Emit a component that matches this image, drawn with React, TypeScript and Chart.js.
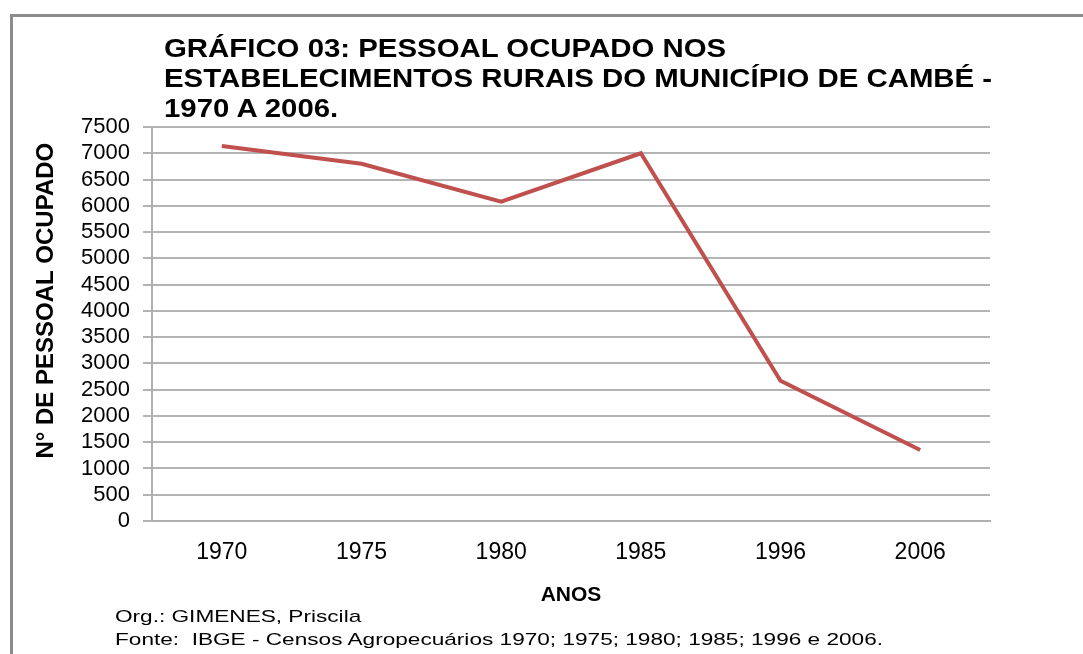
import React, { useEffect, useRef } from "react";
import { Chart, registerables } from "chart.js";

Chart.register(...registerables);

const categories = ["1970", "1975", "1980", "1985", "1996", "2006"];
const pessoalOcupado = [7140, 6800, 6080, 7000, 2670, 1350];
const yMin = 0;
const yMax = 7500;
const yStep = 500;
const titleLines = [
  "GRÁFICO 03: PESSOAL OCUPADO NOS",
  "ESTABELECIMENTOS RURAIS DO MUNICÍPIO DE CAMBÉ -",
  "1970 A 2006.",
];
const yAxisTitle = "N° DE PESSOAL OCUPADO";
const xAxisTitle = "ANOS";
const footLines = [
  "Org.: GIMENES, Priscila",
  "Fonte:  IBGE - Censos Agropecuários 1970; 1975; 1980; 1985; 1996 e 2006.",
];

const FONT = "'Liberation Sans', Arial, Helvetica, sans-serif";

export default function App() {
  const ref = useRef<HTMLCanvasElement>(null);

  useEffect(() => {
    const canvas = ref.current;
    if (!canvas) return;
    Chart.defaults.font.family = FONT;
    Chart.defaults.color = "#000";
    const chart = new Chart(canvas, {
      type: "line",
      data: {
        labels: categories,
        datasets: [
          {
            data: pessoalOcupado,
            borderColor: "#C0504D",
            backgroundColor: "#C0504D",
            borderWidth: 4,
            pointRadius: 0,
            pointHoverRadius: 0,
            fill: false,
            tension: 0,
          },
        ],
      },
      options: {
        responsive: false,
        animation: false,
        devicePixelRatio: 1,
        events: [],
        layout: { padding: { top: 127, right: 93, left: 20, bottom: 0 } },
        plugins: {
          legend: { display: false },
          tooltip: { enabled: false },
          title: { display: false },
        },
        scales: {
          x: {
            offset: true,
            grid: { display: false, drawTicks: false },
            border: { display: true, color: "#b0b0b0", width: 2 },
            ticks: {
              color: "#000",
              font: { size: 23 },
              padding: 18,
              maxRotation: 0,
              autoSkip: false,
            },
            title: {
              display: true,
              text: xAxisTitle,
              color: "#000",
              font: { size: 21, weight: "bold" },
              padding: { top: 0, bottom: 46 },
            },
            afterFit: (s: any) => {
              s.height = 133;
            },
          },
          y: {
            min: yMin,
            max: yMax,
            ticks: {
              stepSize: yStep,
              color: "#000",
              font: { size: 22 },
              padding: 13,
              autoSkip: false,
              callback: (v: any) => String(v),
            },
            grid: { color: "#b4b4b4", lineWidth: 2, tickLength: 9, drawTicks: true },
            border: { display: true, color: "#b0b0b0", width: 2 },
            title: {
              display: true,
              text: "       " + yAxisTitle,
              color: "#000",
              font: { size: 24, weight: "bold" },
              padding: { top: 12, bottom: 0 },
            },
            afterFit: (s: any) => {
              s.width = 132;
            },
          },
        },
      },
    });
    return () => chart.destroy();
  }, []);

  return (
    <div
      style={{
        position: "absolute",
        left: 0,
        top: 0,
        width: 1083,
        height: 654,
        background: "#fff",
        overflow: "hidden",
        fontFamily: FONT,
      }}
    >
      <div
        style={{
          position: "absolute",
          left: 10,
          top: 14,
          width: 1083,
          height: 654,
          borderLeft: "3px solid #8c8c8c",
          borderTop: "3px solid #8c8c8c",
          boxSizing: "border-box",
        }}
      />
      <canvas
        ref={ref}
        width={1083}
        height={654}
        style={{ position: "absolute", left: 0, top: 0, display: "block" }}
      />
      <div
        style={{
          position: "absolute",
          left: 164,
          top: 33,
          fontSize: 26,
          lineHeight: "30px",
          fontWeight: "bold",
          color: "#000",
          whiteSpace: "pre",
          transform: "scaleX(1.13)",
          transformOrigin: "0 0",
        }}
      >
        {titleLines.map((t, i) => (
          <div key={i}>{t}</div>
        ))}
      </div>
      <div
        style={{
          position: "absolute",
          left: 115,
          top: 605,
          fontSize: 17,
          lineHeight: "23px",
          color: "#000",
          whiteSpace: "pre",
          transform: "scaleX(1.33)",
          transformOrigin: "0 0",
        }}
      >
        {footLines.map((t, i) => (
          <div key={i}>{t}</div>
        ))}
      </div>
    </div>
  );
}
